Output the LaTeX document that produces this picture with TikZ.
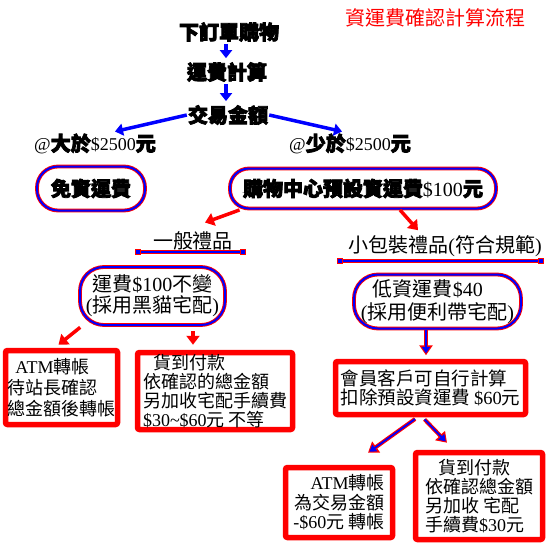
\documentclass[tikz,border=0pt]{standalone}
\usepackage{fontspec}
\setmainfont{Liberation Serif}
\newfontfamily\cj{Noto Sans CJK TC}
\newfontfamily\hv[BoldFeatures={FakeBold=4}]{Noto Sans CJK TC}
\usetikzlibrary{arrows.meta}
\newcommand\lat[1]{{\rmfamily\mdseries #1}}
\newcommand\latS[1]{{\rmfamily\mdseries\fontsize{18}{20}\selectfont #1}}
\begin{document}
\begin{tikzpicture}[x=1pt,y=-1pt,
  hvtext/.style={font=\hv\bfseries\fontsize{20}{22}\selectfont, inner sep=1pt},
  cjtext/.style={font=\cj\fontsize{20}{21}\selectfont, inner sep=1pt},
  rbox/.style={draw=red, line width=0.9pt, double=blue, double distance=2pt, fill=white},
  rect/.style={draw=red, line width=5.5pt, rounded corners=2pt, fill=white, inner sep=0pt},
  barr/.style={draw=blue, line width=3.5pt, -{Triangle[length=8pt,width=12pt]}},
  rarr/.style={draw=red, line width=3.5pt, -{Triangle[length=9pt,width=13pt]}},
  pout/.style={draw=red, line width=4pt, -{Triangle[length=10pt,width=13pt]}},
  pin/.style={draw=blue, line width=1.8pt, -{Triangle[length=6.5pt,width=8pt]}, shorten >=1.8pt},
  uline/.style={draw=red, line width=0.8pt, double=blue, double distance=1.8pt},
  sq/.style={draw=red, fill=blue, line width=0.8pt, minimum size=5pt, inner sep=0pt}]
\useasboundingbox (0,0) rectangle (550,550);

% title
\node[font=\cj\fontsize{20}{22}\selectfont, text=red, inner sep=0pt] (title) at (435,18) {資運費確認計算流程};

% top chain
\node[hvtext] (n1) at (229,32) {下訂單購物};
\node[hvtext] (n2) at (227,72) {運費計算};
\node[hvtext] (n3) at (228,115) {交易金額};
\coordinate (ax) at (226,0);
\draw[barr, shorten <=1pt, shorten >=3pt] (n1.south -| ax) -- (n2.north -| ax);
\draw[barr, shorten <=1pt, shorten >=3pt] (n2.south -| ax) -- (n3.north -| ax);

% branch labels
\node[hvtext] (l1) at (95,144) {\latS{@}大於\latS{\$2500}元};
\node[hvtext] (l2) at (350,144) {\latS{@}少於\latS{\$2500}元};
\draw[barr] (n3.west) -- ([xshift=20pt,yshift=1pt]l1.north);
\draw[barr] (n3.east) -- ([xshift=-8pt,yshift=1pt]l2.north);

% rounded boxes row 1
\node[rbox, hvtext, minimum width=108pt, minimum height=44pt, rounded corners=21pt] (box1) at (91,188.5) {免資運費};
\node[rbox, hvtext, minimum width=266pt, minimum height=40pt, rounded corners=19pt] (box2) at (363,188.5) {購物中心預設資運費\lat{\$100}元};

% gift types
\node[cjtext] (g1) at (193,241) {一般禮品};
\node[cjtext] (g2) at (445,246) {小包裝禮品\lat{(}符合規範\lat{)}};
\coordinate (u1a) at (138,252);
\coordinate (u1b) at (243,252);
\coordinate (u2a) at (340,261);
\coordinate (u2b) at (541,261);
\draw[uline] (u1a) -- (u1b);
\draw[uline] (u2a) -- (u2b);
\node[sq] (s1) at (u1a) {};
\node[sq] (s2) at (u1b) {};
\node[sq] (s3) at (u2a) {};
\node[sq] (s4) at (u2b) {};

\draw[rarr] ([xshift=10pt,yshift=-1pt]box2.south west) -- ([xshift=12pt,yshift=8pt]g1.north);
\draw[rarr] ([xshift=37pt,yshift=-1pt]box2.south) -- ([xshift=-27pt,yshift=4pt]g2.north);

% rounded boxes row 2
\node[rbox, cjtext, align=center, minimum width=145pt, minimum height=58pt, rounded corners=24pt] (box3) at (152.5,296) {運費\lat{\$100}不變\\\lat{(}採用黑貓宅配\lat{)}};
\node[rbox, font=\cj\fontsize{20}{23}\selectfont, inner sep=1pt, align=left, minimum width=167pt, minimum height=54pt, rounded corners=24pt] (box4) at (437.5,301.5) {\hspace*{12pt}低資運費\lat{\$40}\\\lat{(}採用便利帶宅配\lat{)}};

% red boxes left
\node[rect, font=\cj\fontsize{18}{21}\selectfont, align=left, minimum width=112pt, minimum height=74pt] (rb1) at (61.5,387.5) {\hspace*{8pt}\lat{ATM}轉帳\\待站長確認\\總金額後轉帳};
\node[rect, font=\cj\fontsize{18}{19}\selectfont, align=left, minimum width=155pt, minimum height=77pt] (rb2) at (215,391) {\hspace*{10pt}貨到付款\\依確認的總金額\\另加收宅配手續費\\\lat{\$30\textasciitilde\$60}元 不等};

\draw[rarr, shorten <=3pt] ([xshift=3pt]box3.south west) -- ([xshift=-3pt,yshift=3pt]rb1.north);
\coordinate (ax2) at (193,0);
\draw[rarr, shorten <=6pt, shorten >=5pt] (box3.south -| ax2) -- (rb2.north -| ax2);

% right lower
\node[rect, font=\cj\fontsize{18.5}{19}\selectfont, align=left, minimum width=190pt, minimum height=53pt] (mem) at (430.5,388) {會員客戶可自行計算\\扣除預設資運費 \lat{\$60}元};
\node[rect, font=\cj\fontsize{18}{19.5}\selectfont, align=right, minimum width=107pt, minimum height=70pt] (atm2) at (339,502.5) {\lat{ATM}轉帳\\為交易金額\\\lat{-\$60}元 轉帳};
\node[rect, font=\cj\fontsize{18}{19}\selectfont, align=left, minimum width=127pt, minimum height=87pt] (cod2) at (479,496) {\hspace*{13pt}貨到付款\\依確認總金額\\另加收 宅配\\手續費\lat{\$30}元};

\coordinate (px) at (426,0);
\draw[pout, shorten <=1pt, shorten >=3.5pt] (box4.south -| px) -- (mem.north -| px);
\draw[pin, shorten <=1pt, shorten >=5.3pt] (box4.south -| px) -- (mem.north -| px);
\draw[pout, shorten <=3pt] ([xshift=-13pt]mem.south) -- ([xshift=29pt,yshift=12pt]atm2.north);
\draw[pin, shorten <=3pt] ([xshift=-13pt]mem.south) -- ([xshift=29pt,yshift=12pt]atm2.north);
\draw[pout, shorten <=3pt] ([xshift=-8pt]mem.south) -- ([xshift=-32pt,yshift=7pt]cod2.north);
\draw[pin, shorten <=3pt] ([xshift=-8pt]mem.south) -- ([xshift=-32pt,yshift=7pt]cod2.north);
\end{tikzpicture}
\end{document}
